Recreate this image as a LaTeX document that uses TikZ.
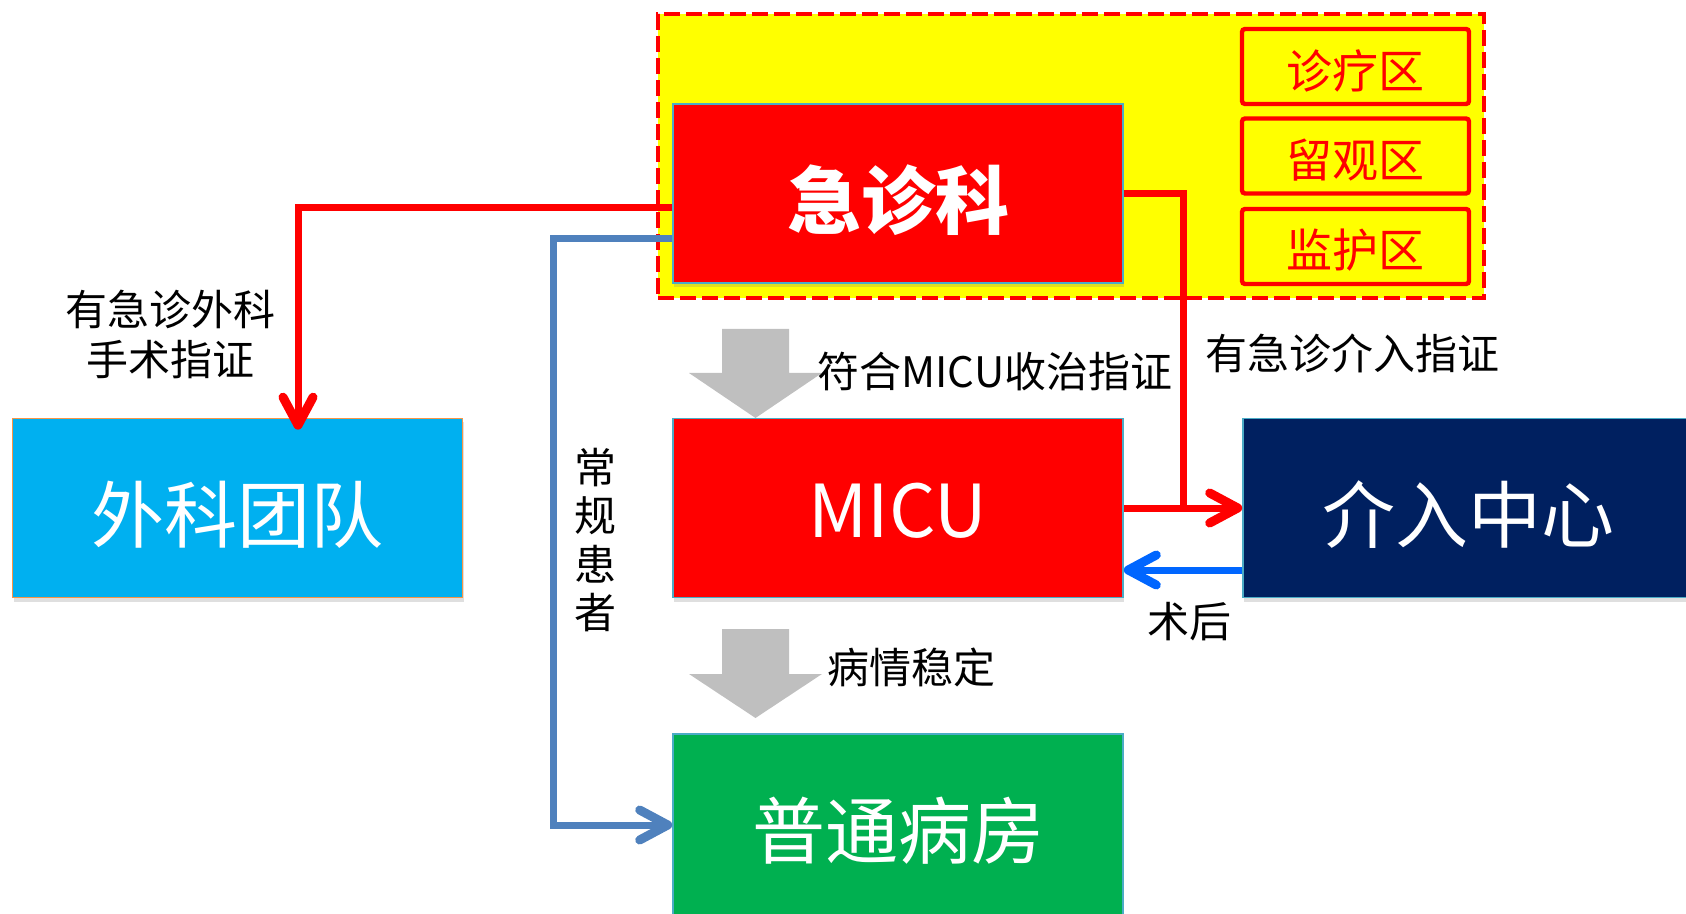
\documentclass[tikz,border=0pt]{standalone}
\usepackage{fontspec}
\setmainfont{Noto Sans CJK SC}
\usetikzlibrary{arrows.meta,shadows}
\definecolor{zred}{RGB}{255,0,0}
\definecolor{zyellow}{RGB}{255,255,0}
\definecolor{edgeblue}{RGB}{75,172,198}
\definecolor{edgeorange}{RGB}{247,150,70}
\definecolor{skyb}{RGB}{0,176,240}
\definecolor{navyb}{RGB}{0,32,96}
\definecolor{greenb}{RGB}{0,176,80}
\definecolor{grayarrow}{RGB}{191,191,191}
\definecolor{steelb}{RGB}{79,129,189}
\definecolor{brightb}{RGB}{0,102,255}
\newcommand{\lowtxt}[2]{\raisebox{-#1}[\height][\depth]{#2}}
\begin{document}
\begin{tikzpicture}[x=0.5pt,y=-0.5pt,
  box/.style={draw=edgeblue, line width=0.8pt, minimum width=225pt, minimum height=89.5pt,
    inner sep=0pt, text=white, font=\fontsize{36.5}{40}\selectfont,
    drop shadow={opacity=0.25, shadow xshift=0.5pt, shadow yshift=-2pt}},
  zonebox/.style={draw=zred, line width=2.2pt, rounded corners=1.5pt, fill=zyellow,
    minimum width=113.5pt, minimum height=37.5pt, inner sep=0pt, text=zred,
    font=\fontsize{23}{26}\selectfont},
  lbl/.style={text=black, align=center, inner sep=0pt, font=\fontsize{21}{25}\selectfont},
  tipv/.style={-{Straight Barb[length=14pt,width=15pt,line width=4.5pt,round]}},
  redline/.style={draw=zred, line width=3.5pt},
  blueline/.style={draw=steelb, line width=3.5pt},
  backline/.style={draw=brightb, line width=3.5pt},
  blockarrow/.style={fill=grayarrow}
]
\useasboundingbox (0,0) rectangle (1686,914);
\clip (0,0) rectangle (1686,914);

% emergency zone
\node[draw=zred, line width=2pt, dash pattern=on 8pt off 3pt, fill=zyellow,
  minimum width=413pt, minimum height=142pt, inner sep=0pt] (zone) at (1071,156) {};
\node[zonebox] (z1) at (1355.5,66.5) {\lowtxt{2pt}{诊疗区}};
\node[zonebox] (z2) at (1355.5,156) {\lowtxt{2pt}{留观区}};
\node[zonebox] (z3) at (1355.5,246.5) {\lowtxt{2pt}{监护区}};

% main boxes
\node[box, fill=zred, font=\fontsize{37}{40}\selectfont\bfseries] (jz) at (898,193.5) {\lowtxt{3.2pt}{急诊科}};
\node[box, fill=skyb, draw=edgeorange] (wk) at (237.5,508) {\lowtxt{3.2pt}{外科团队}};
\node[box, fill=zred] (micu) at (898,508) {\lowtxt{1.6pt}{MICU}};
\node[box, fill=navyb] (jr) at (1468,508) {\lowtxt{3.2pt}{介入中心}};
\node[box, fill=greenb, minimum height=97pt] (pt) at (898,831) {普通病房};

% gray block arrows
\fill[blockarrow] (722,329) -- (789,329) -- (789,373) -- (822,373) -- (755.5,418) -- (689,373) -- (722,373) -- cycle;
\fill[blockarrow] (722,629) -- (789,629) -- (789,674) -- (822,674) -- (755.5,718) -- (689,674) -- (722,674) -- cycle;

% connectors
\coordinate (joint) at (1183,508);
\coordinate (bl) at (553,532);
\draw[redline, tipv, shorten >=-6pt] ([yshift=-7.25pt]jz.west) -| ([xshift=30.25pt]wk.north);
\draw[blueline, tipv] ([yshift=-22.75pt]jz.west) -| (bl) |- ([yshift=3pt]pt.west);
\draw[redline] (jz.east) -| (joint);
\draw[redline, tipv] (micu.east) -- (jr.west);
\draw[backline, tipv] ([yshift=-31pt]jr.west) -- ([yshift=-31pt]micu.east);

% labels
\node[lbl] (l1) at (170,334) {有急诊外科\\手术指证};
\node[lbl, font=\fontsize{21}{24.25}\selectfont] (l2) at (595,540) {常\\规\\患\\者};
\node[lbl] (l3) at (995,371) {符合MICU收治指证};
\node[lbl] (l4) at (1352,353) {有急诊介入指证};
\node[lbl] (l5) at (1189,622) {术后};
\node[lbl] (l6) at (911,667) {病情稳定};
\end{tikzpicture}
\end{document}
